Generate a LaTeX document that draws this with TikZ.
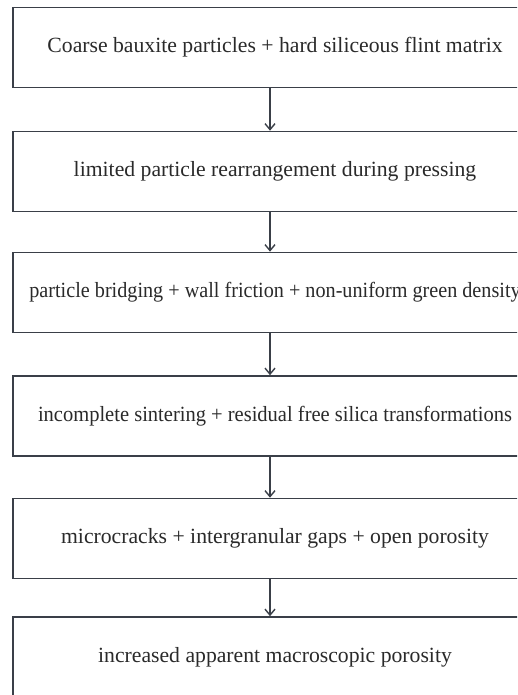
\documentclass[tikz,border=0pt]{standalone}
\usepackage{fontspec}
\setmainfont{Liberation Serif}
\usetikzlibrary{arrows.meta}
\definecolor{linec}{HTML}{3A3F48}
\definecolor{textc}{HTML}{2A2A2A}
\tikzset{
  flowbox/.style={draw=linec, line width=1.6pt, rectangle, minimum width=524pt, minimum height=80pt, inner sep=0pt, text=textc, font=\fontsize{21.7}{26}\selectfont},
  flowarrow/.style={draw=linec, line width=1.4pt, -{Straight Barb[length=6pt,width=10pt,line width=1.4pt]}}
}
\begin{document}
\begin{tikzpicture}[x=1pt,y=1pt]
\useasboundingbox (0,0) rectangle (517,-695);
\clip (0,0) rectangle (517,-695);
\fill[white] (0,0) rectangle (517,-695);
\coordinate (ax) at (270,0);
\node[flowbox] (b1) at (275,-47.5) {Coarse bauxite particles + hard siliceous flint matrix};
\node[flowbox] (b2) at (275,-171.5) {limited particle rearrangement during pressing};
\node[flowbox] (b3) at (275,-292.5) {\scalebox{0.93}[1]{particle bridging + wall friction + non-uniform green density}};
\node[flowbox] (b4) at (275,-416) {\scalebox{0.945}[1]{incomplete sintering + residual free silica transformations}};
\node[flowbox] (b5) at (275,-538.5) {microcracks + intergranular gaps + open porosity};
\node[flowbox] (b6) at (275,-657) {increased apparent macroscopic porosity};
\draw[flowarrow] (b1.south -| ax) -- (b2.north -| ax);
\draw[flowarrow] (b2.south -| ax) -- (b3.north -| ax);
\draw[flowarrow] (b3.south -| ax) -- (b4.north -| ax);
\draw[flowarrow] (b4.south -| ax) -- (b5.north -| ax);
\draw[flowarrow] (b5.south -| ax) -- (b6.north -| ax);
\end{tikzpicture}
\end{document}
